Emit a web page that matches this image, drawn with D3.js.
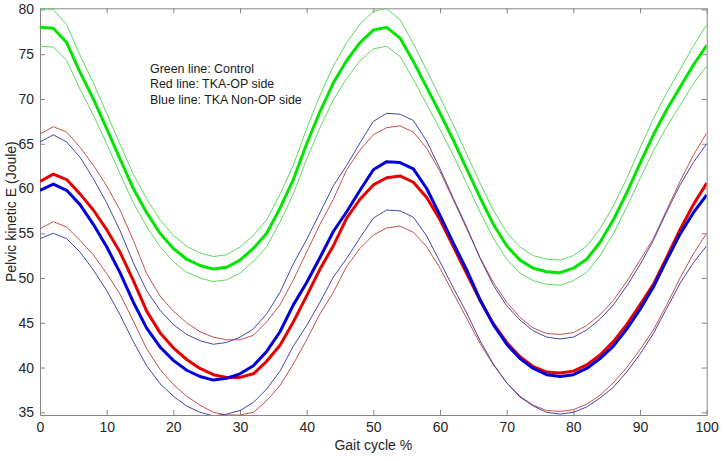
<!DOCTYPE html>
<html>
<head>
<meta charset="utf-8">
<script src="https://cdn.jsdelivr.net/npm/d3@7"></script>
<style>
  body { margin: 0; background: #fff; }
  svg { display: block; font-family: "Liberation Sans", Arial, sans-serif; }
  .axis path, .axis line { stroke: #868686; stroke-width: 1; }
  .axis text { fill: #262626; font-size: 14px; }
  .label { fill: #262626; font-size: 14px; }
  .note { fill: #1a1a1a; font-size: 12.4px; }
</style>
</head>
<body>
<div id="chart"></div>
<script>
// gait cycle %, sampled every 2 %
var gait = d3.range(0, 101, 2);

// Control (green)
var controlMean = [78.0, 77.9, 76.3, 73.0, 70.0, 66.7, 63.3, 60.0, 57.3, 55.0,
                   53.3, 52.1, 51.4, 51.0, 51.2, 52.0, 53.3, 55.0, 57.8, 61.0,
                   65.0, 68.6, 71.8, 74.3, 76.3, 77.7, 78.0, 76.8, 74.2, 71.3,
                   68.4, 65.4, 62.2, 59.0, 56.0, 53.6, 52.0, 51.1, 50.7, 50.6,
                   51.1, 52.1, 54.0, 56.5, 59.5, 62.8, 66.0, 68.8, 71.3, 73.8, 76.0];
var controlSd   = [2.1, 2.1, 2.0, 1.9, 1.8, 1.7, 1.65, 1.6, 1.55, 1.5,
                   1.45, 1.45, 1.4, 1.4, 1.4, 1.45, 1.45, 1.5, 1.55, 1.6,
                   1.7, 1.8, 1.9, 2.0, 2.05, 2.1, 2.1, 2.05, 2.0, 1.9,
                   1.8, 1.7, 1.65, 1.6, 1.55, 1.5, 1.45, 1.4, 1.4, 1.4,
                   1.4, 1.45, 1.5, 1.55, 1.6, 1.7, 1.8, 1.9, 2.0, 2.1, 2.3];

// TKA operated side (red)
var opMean = [60.8, 61.6, 61.0, 59.4, 57.6, 55.4, 52.9, 49.7, 46.3, 43.9,
              42.2, 40.9, 39.9, 39.2, 38.9, 38.9, 39.3, 40.7, 42.5, 45.1,
              48.0, 51.0, 53.6, 56.7, 58.8, 60.4, 61.2, 61.4, 60.7, 59.0,
              56.5, 53.5, 50.5, 47.5, 44.9, 42.8, 41.2, 40.1, 39.5, 39.4,
              39.6, 40.3, 41.4, 42.9, 44.8, 47.0, 49.3, 52.3, 55.4, 58.2, 60.6];
var opSd   = [5.3, 5.3, 5.3, 5.2, 5.0, 4.9, 4.7, 4.5, 4.2, 4.1,
              4.1, 4.1, 4.1, 4.2, 4.2, 4.2, 4.3, 4.4, 4.5, 4.7,
              4.9, 5.0, 5.2, 5.4, 5.5, 5.6, 5.6, 5.6, 5.6, 5.5,
              5.4, 5.2, 5.0, 4.8, 4.6, 4.5, 4.4, 4.3, 4.3, 4.3,
              4.3, 4.4, 4.5, 4.6, 4.8, 5.0, 5.1, 5.3, 5.4, 5.5, 5.6];

// TKA non-operated side (blue)
var nonOpMean = [59.8, 60.5, 59.8, 58.2, 56.0, 53.5, 50.6, 47.3, 44.4, 42.3,
                 40.8, 39.7, 39.0, 38.6, 38.8, 39.3, 40.2, 41.8, 44.0, 47.0,
                 49.5, 52.3, 55.2, 57.4, 59.8, 62.1, 63.0, 62.9, 62.2, 60.0,
                 57.0, 53.9, 50.9, 47.6, 44.8, 42.6, 41.0, 39.9, 39.2, 39.0,
                 39.2, 39.9, 41.0, 42.4, 44.3, 46.5, 49.0, 52.0, 54.9, 57.3, 59.3];
var nonOpSd   = [5.4, 5.5, 5.4, 5.3, 5.1, 4.9, 4.7, 4.4, 4.2, 4.1,
                 4.0, 4.0, 4.0, 4.0, 4.0, 4.1, 4.1, 4.2, 4.4, 4.6,
                 4.8, 5.0, 5.1, 5.2, 5.3, 5.4, 5.4, 5.4, 5.4, 5.3,
                 5.2, 5.0, 4.8, 4.6, 4.4, 4.3, 4.3, 4.2, 4.2, 4.2,
                 4.2, 4.3, 4.4, 4.6, 4.8, 5.0, 5.2, 5.4, 5.5, 5.6, 5.7];

var xTickValues = d3.range(0, 101, 10);
var yTickValues = [35, 40, 45, 50, 55, 60, 65, 70, 75, 80];
var noteLines = ["Green line: Control", "Red line: TKA-OP side", "Blue line: TKA Non-OP side"];

var series = [
    {mean: controlMean, sd: controlSd, thick: "#00e600", thin: "#5fd95f"},
    {mean: opMean,      sd: opSd,      thick: "#e60000", thin: "#c8504a"},
    {mean: nonOpMean,   sd: nonOpSd,   thick: "#0000dc", thin: "#4646aa"}
];

var W = 724, H = 461
    , margin = {top: 8.3, right: 17.3, bottom: 46, left: 40}
    , width = W - margin.left - margin.right
    , height = H - margin.top - margin.bottom
    ;

var svg = d3.select("#chart").append("svg")
    .attr("width", W)
    .attr("height", H);

var g = svg.append("g")
    .attr("transform", "translate(" + margin.left + "," + margin.top + ")");

var x = d3.scaleLinear().domain([0, 100]).range([0, width]);
var y = d3.scaleLinear().domain([34.7, 80.13]).range([height, 0]);

g.append("clipPath").attr("id", "plot-clip")
    .append("rect").attr("width", width).attr("height", height);

// axes: box with inward ticks on all sides
g.append("g").attr("class", "axis")
    .attr("transform", "translate(0," + height + ")")
    .call(d3.axisBottom(x).tickValues(xTickValues).tickSizeInner(-5).tickSizeOuter(0).tickPadding(7));
g.append("g").attr("class", "axis")
    .call(d3.axisTop(x).tickValues(xTickValues).tickSizeInner(-5).tickSizeOuter(0).tickFormat(""));
g.append("g").attr("class", "axis")
    .call(d3.axisLeft(y).tickValues(yTickValues).tickSizeInner(-5).tickSizeOuter(0).tickPadding(6));
g.append("g").attr("class", "axis")
    .attr("transform", "translate(" + width + ",0)")
    .call(d3.axisRight(y).tickValues(yTickValues).tickSizeInner(-5).tickSizeOuter(0).tickFormat(""));

var line_gen = function(vals) {
    return d3.line()
        .x((d, i) => x(gait[i]))
        .y(d => y(d))
        .curve(d3.curveLinear)(vals);
};

var lines_g = g.append("g").attr("clip-path", "url(#plot-clip)");

series.forEach(function(s) {
    var upper = s.mean.map((m, i) => m + s.sd[i]);
    var lower = s.mean.map((m, i) => m - s.sd[i]);
    [upper, lower].forEach(function(b) {
        lines_g.append("path")
            .attr("d", line_gen(b))
            .attr("fill", "none")
            .attr("stroke", s.thin)
            .attr("stroke-width", 1);
    });
    lines_g.append("path")
        .attr("d", line_gen(s.mean))
        .attr("fill", "none")
        .attr("stroke", s.thick)
        .attr("stroke-width", 3)
        .attr("stroke-linejoin", "round");
});

// annotation
g.append("g").selectAll("text")
    .data(noteLines)
    .enter().append("text")
    .attr("class", "note")
    .attr("x", 150 - margin.left)
    .attr("y", (d, i) => 73 - margin.top + i * 15.5)
    .text(d => d);

// axis labels
svg.append("text").attr("class", "label")
    .attr("x", margin.left + width / 2)
    .attr("y", 450)
    .attr("text-anchor", "middle")
    .text("Gait cycle %");

svg.append("text").attr("class", "label")
    .attr("transform", "translate(16," + (margin.top + height / 2) + ") rotate(-90)")
    .attr("text-anchor", "middle")
    .text("Pelvic kinetic E (Joule)");
</script>
</body>
</html>
